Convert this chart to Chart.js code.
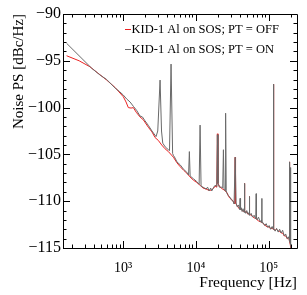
<!DOCTYPE html>
<html>
<head>
<meta charset="utf-8">
<script src="https://cdn.jsdelivr.net/npm/chart.js@4.4.1/dist/chart.umd.min.js"></script>
<style>
html,body{margin:0;padding:0;background:#fff;}
#wrap{width:307px;height:295px;position:relative;}
canvas{display:block;}
</style>
</head>
<body>
<div id="wrap"><canvas id="c" width="307" height="295"></canvas></div>
<script>
// ---- data ----
const seriesLabels = ['KID-1 Al on SOS; PT = OFF', 'KID-1 Al on SOS; PT = ON'];
const xTitle = 'Frequency [Hz]';
const yTitle = 'Noise PS [dBc/Hz]';
const xTickValues = [1e3, 1e4, 1e5];
const xTickLabels = ['10³', '10⁴', '10⁵'];
const yTickLabels = ['−115', '−110', '−105', '−100', '−95', '−90'];

const offFreq = [168,250,352,450,597,776,1010,1100,1183,1290,1386,1520,1713,1900,2228,2500,2755,3050,3404,3780,4200,4920,5500,6075,6800,7510,8300,9260,10300,11440,12585,13830,15210,16550,17600,18390,19400,19770,20150,21500,22760,24450,26890,28200,29570,31000,32510,34300,34700,35100,37000,39310,41000,43220,46000,46500,47000,50000,52270,54000,54400,54800,57480,60000,63200,66500,69490,72500,76420,80000,84030,88000,92400,97000,101600,106500,111700,115700,116500,117300,122900,128500,135100,141500,148600,155500,163400,171000,179700,186000,191500,193000,194500,197600,204000,210400];
const offNoise = [-94.46,-95.0,-95.64,-96.3,-97.06,-97.84,-98.84,-99.4,-100.0,-100.05,-100.0,-100.5,-101.0,-101.3,-102.1,-102.6,-103.2,-103.5,-104.0,-104.4,-104.7,-105.3,-105.9,-106.3,-106.7,-107.0,-107.4,-107.75,-108.0,-108.3,-108.6,-108.7,-108.85,-108.8,-108.6,-108.4,-108.5,-102.8,-108.1,-108.5,-108.65,-108.8,-109.1,-109.5,-109.7,-109.8,-110.0,-110.3,-105.3,-110.2,-110.5,-110.8,-110.7,-111.0,-111.1,-108.1,-111.1,-111.2,-111.4,-111.3,-109.5,-111.4,-111.5,-111.6,-111.8,-111.8,-112.0,-112.1,-112.2,-112.2,-112.4,-112.5,-112.7,-112.7,-112.8,-112.9,-112.9,-113.0,-97.5,-113.0,-113.1,-113.0,-113.2,-113.2,-113.4,-113.4,-113.7,-113.7,-114.0,-114.0,-114.1,-105.8,-114.3,-114.6,-115.3,-116.0];

const onFreq = [168,372,480,597,776,900,1010,1130,1250,1400,1540,1713,1850,2000,2228,2500,2842,3000,3229,3380,3514,3800,4200,4350,4569,4800,4920,5200,5500,6075,6800,7510,7950,8150,8350,9260,10300,11100,11440,11800,12585,13830,14500,15210,16000,16550,17600,18390,19400,19770,20150,21000,22760,23400,23920,24450,25200,25640,26100,26890,28000,29570,31000,32510,33500,34700,35750,37000,38500,39900,40500,41100,42000,43220,44500,46000,46500,47000,48500,50000,52270,54000,54400,54800,57480,60000,63200,66500,67300,68100,69490,72500,76420,80000,80500,81000,84030,88000,92400,97000,101600,106500,111700,115700,116500,117300,122900,128500,135100,141500,148600,155500,163400,171000,179700,186000,191500,193000,194500,198000,199500,201000,205000,210400];
const onNoise = [-93.13,-95.8,-96.5,-97.0,-97.9,-98.3,-98.66,-99.1,-99.4,-99.9,-100.3,-100.9,-101.0,-101.4,-101.9,-102.5,-103.1,-102.5,-97.06,-102.5,-103.8,-104.2,-104.5,-104.6,-95.35,-104.9,-105.1,-105.4,-105.8,-106.1,-106.6,-106.9,-107.2,-104.7,-107.3,-107.6,-107.9,-108.2,-101.87,-108.4,-108.5,-108.7,-108.5,-108.9,-108.6,-108.9,-108.5,-108.3,-108.4,-102.9,-108.1,-108.5,-108.5,-108.6,-104.5,-108.7,-108.9,-100.6,-108.9,-109.2,-109.4,-109.6,-109.9,-110.0,-110.3,-105.3,-110.2,-110.6,-110.4,-110.9,-109.7,-110.9,-110.7,-111.1,-110.8,-111.2,-108.1,-111.0,-111.3,-111.0,-111.4,-111.2,-109.5,-111.5,-111.3,-111.7,-111.5,-111.9,-109.2,-111.8,-112.0,-111.7,-112.2,-112.0,-109.7,-112.3,-112.3,-112.6,-112.4,-112.8,-112.6,-113.0,-112.7,-113.0,-97.5,-112.9,-113.2,-112.9,-113.3,-113.0,-113.4,-113.1,-113.7,-113.5,-114.0,-113.8,-114.1,-105.8,-114.3,-114.5,-106.4,-114.7,-115.3,-116.0];

const xMin = 150, xMax = 245000, yMin = -115, yMax = -90;
const seriesColors = ['rgb(235,35,35)', 'rgb(105,105,105)'];

const FONT = "'Liberation Serif', 'Times New Roman', serif";

const toPts = (xs, ys) => xs.map((x, i) => ({x: x, y: ys[i]}));

// frame, inner ticks on all sides, and legend
const rootStyle = {
  id: 'rootStyle',
  afterDraw(chart) {
    const {ctx, chartArea: a, scales: {x, y}} = chart;
    ctx.save();
    ctx.strokeStyle = '#000';
    ctx.lineWidth = 1;
    ctx.beginPath();
    ctx.rect(Math.round(a.left) + 0.5, Math.round(a.top) + 0.5, Math.round(a.right - a.left), Math.round(a.bottom - a.top));
    ctx.stroke();
    const maj = 7, minr = 3.5;
    ctx.beginPath();
    // x ticks
    for (let d = 100; d <= 1e6; d *= 10) {
      for (let m = 1; m <= 9; m++) {
        const v = d * m;
        if (v < xMin || v > xMax) continue;
        const px = Math.round(x.getPixelForValue(v)) + 0.5;
        const L = m === 1 ? maj : minr;
        ctx.moveTo(px, a.bottom); ctx.lineTo(px, a.bottom - L);
        ctx.moveTo(px, a.top); ctx.lineTo(px, a.top + L);
      }
    }
    for (let v = yMin; v <= yMax; v += 1) {
      const py = Math.round(y.getPixelForValue(v)) + 0.5;
      const L = (v % 5 === 0) ? maj : minr;
      ctx.moveTo(a.left, py); ctx.lineTo(a.left + L, py);
      ctx.moveTo(a.right, py); ctx.lineTo(a.right - L, py);
    }
    ctx.stroke();
    // legend
    ctx.font = '12.5px ' + FONT;
    ctx.textBaseline = 'middle';
    ctx.textAlign = 'left';
    chart.data.datasets.forEach((ds, i) => {
      const ly = 29.5 + 20 * i;
      ctx.strokeStyle = ds.borderColor;
      ctx.beginPath();
      ctx.moveTo(125, ly); ctx.lineTo(131, ly);
      ctx.stroke();
      ctx.fillStyle = '#000';
      ctx.fillText(ds.label, 131.5, ly);
    });
    ctx.restore();
  }
};

new Chart(document.getElementById('c'), {
  type: 'line',
  data: {
    datasets: [
      {label: seriesLabels[0], data: toPts(offFreq, offNoise), borderColor: seriesColors[0], borderWidth: 1, pointRadius: 0, tension: 0, order: 1, clip: 0},
      {label: seriesLabels[1], data: toPts(onFreq, onNoise), borderColor: seriesColors[1], borderWidth: 1, pointRadius: 0, tension: 0, order: 0, clip: 0}
    ]
  },
  options: {
    responsive: false,
    animation: false,
    devicePixelRatio: 1,
    layout: {padding: {top: 14, right: 10, left: 0, bottom: 0}},
    plugins: {legend: {display: false}, tooltip: {enabled: false}},
    scales: {
      x: {
        type: 'logarithmic', min: xMin, max: xMax,
        afterFit(s) { s.height = 47; },
        afterBuildTicks(s) { s.ticks = xTickValues.map(v => ({value: v})); },
        grid: {display: false, drawTicks: false},
        border: {display: false},
        ticks: {
          autoSkip: false, maxRotation: 0, padding: 12, color: '#000',
          font: {family: FONT, size: 14},
          callback: (v, i) => xTickLabels[i]
        },
        title: {display: true, text: xTitle, align: 'end', color: '#000', font: {family: FONT, size: 15.5}, padding: {top: 0, bottom: 3}}
      },
      y: {
        type: 'linear', min: yMin, max: yMax,
        afterFit(s) { s.width = 63; },
        grid: {display: false, drawTicks: false},
        border: {display: false},
        ticks: {
          stepSize: 5, padding: 2, color: '#000',
          font: {family: FONT, size: 16},
          callback: (v, i) => yTickLabels[i]
        },
        title: {display: true, text: yTitle, align: 'end', color: '#000', font: {family: FONT, size: 15}, padding: {top: 10, bottom: 0}}
      }
    }
  },
  plugins: [rootStyle]
});
</script>
</body>
</html>
